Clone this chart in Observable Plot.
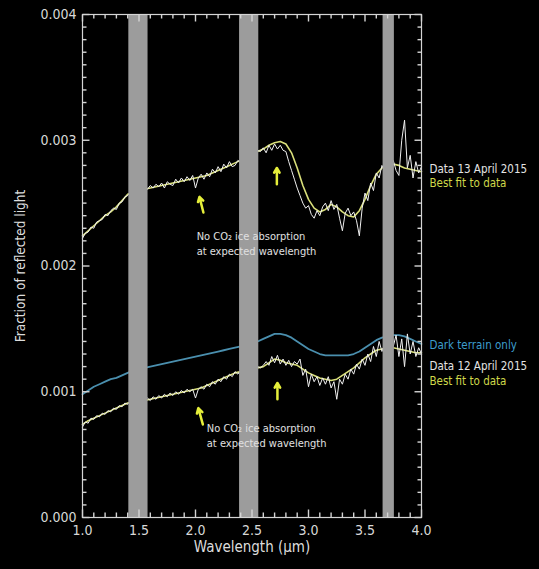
<!DOCTYPE html>
<html><head><meta charset="utf-8">
<script src="https://cdn.jsdelivr.net/npm/d3@7"></script>
<script src="https://cdn.jsdelivr.net/npm/@observablehq/plot@0.6"></script>
<style>
html,body{margin:0;padding:0;background:#000;}
#chart{width:539px;height:569px;overflow:hidden;}
</style></head><body><div id="chart"></div>
<script>
// Wavelength grids (µm)
const wl = [1.00,1.05,1.10,1.15,1.20,1.25,1.30,1.35,1.40,1.45,1.50,1.55,1.60,1.65,1.70,1.75,1.80,1.85,1.90,1.95,
  2.00,2.05,2.10,2.15,2.20,2.25,2.30,2.35,2.40,2.45,2.50,2.55,2.60,2.65,2.70,2.75,2.80,2.85,2.90,2.95,
  3.00,3.05,3.10,3.15,3.20,3.25,3.30,3.35,3.40,3.45,3.50,3.55,3.60,3.65,3.70,3.75,3.80,3.85,3.90,3.95,4.00];
const wlFine = [1.000,1.025,1.050,1.075,1.100,1.125,1.150,1.175,1.200,1.225,1.250,1.275,1.300,1.325,1.350,1.375,1.400,1.425,1.450,1.475,
  1.500,1.525,1.550,1.575,1.600,1.625,1.650,1.675,1.700,1.725,1.750,1.775,1.800,1.825,1.850,1.875,1.900,1.925,1.950,1.975,
  2.000,2.025,2.050,2.075,2.100,2.125,2.150,2.175,2.200,2.225,2.250,2.275,2.300,2.325,2.350,2.375,2.400,2.425,2.450,2.475,
  2.500,2.525,2.550,2.575,2.600,2.625,2.650,2.675,2.700,2.725,2.750,2.775,2.800,2.825,2.850,2.875,2.900,2.925,2.950,2.975,
  3.000,3.025,3.050,3.075,3.100,3.125,3.150,3.175,3.200,3.225,3.250,3.275,3.300,3.325,3.350,3.375,3.400,3.425,3.450,3.475,
  3.500,3.525,3.550,3.575,3.600,3.625,3.650,3.675,3.700,3.725,3.750,3.775,3.800,3.825,3.850,3.875,3.900,3.925,3.950,3.975,4.000];

// Best fit, 13 April 2015 (on wl)
const fit13 = [0.00224,0.00228,0.00232,0.00236,0.00240,0.00243,0.00247,0.00252,0.00257,0.00259,0.00260,0.00261,0.00262,0.00263,0.00264,0.00265,0.00266,0.00267,0.00268,0.00269,
  0.00270,0.00271,0.00272,0.00274,0.00276,0.00278,0.00280,0.00282,0.00284,0.00287,0.00289,0.00291,0.00293,0.00296,0.00298,0.00299,0.00297,0.00290,0.00278,0.00264,
  0.00253,0.00246,0.00243,0.00245,0.00249,0.00247,0.00243,0.00240,0.00239,0.00244,0.00253,0.00264,0.00273,0.00278,0.00280,0.00281,0.00280,0.00278,0.00277,0.00276,0.00275];
// Data, 13 April 2015 (on wlFine)
const data13 = [0.00222,0.00226,0.00227,0.00231,0.00230,0.00235,0.00236,0.00237,0.00241,0.00240,0.00244,0.00246,0.00245,0.00250,0.00251,0.00255,0.00256,0.00259,0.00258,0.00260,
  0.00261,0.00260,0.00262,0.00261,0.00264,0.00262,0.00265,0.00263,0.00266,0.00262,0.00267,0.00265,0.00264,0.00269,0.00266,0.00270,0.00267,0.00271,0.00268,0.00272,
  0.00262,0.00270,0.00273,0.00269,0.00274,0.00271,0.00277,0.00274,0.00279,0.00275,0.00281,0.00278,0.00283,0.00279,0.00280,0.00284,0.00282,0.00286,0.00288,0.00287,
  0.00290,0.00289,0.00292,0.00291,0.00294,0.00290,0.00296,0.00292,0.00297,0.00293,0.00296,0.00292,0.00291,0.00283,0.00276,0.00269,0.00262,0.00256,0.00250,0.00246,
  0.00248,0.00241,0.00238,0.00244,0.00240,0.00247,0.00250,0.00244,0.00252,0.00245,0.00249,0.00238,0.00228,0.00242,0.00246,0.00240,0.00243,0.00236,0.00224,0.00246,
  0.00258,0.00252,0.00266,0.00260,0.00274,0.00270,0.00280,0.00276,0.00283,0.00279,0.00284,0.00276,0.00272,0.00300,0.00316,0.00278,0.00288,0.00270,0.00283,0.00274,0.00279];
// Dark terrain only (on wl)
const dark = [0.00098,0.00101,0.00104,0.00106,0.00108,0.00110,0.00111,0.00113,0.00115,0.00117,0.00118,0.00119,0.00120,0.00121,0.00122,0.00123,0.00124,0.00125,0.00126,0.00127,
  0.00128,0.00129,0.00130,0.00131,0.00132,0.00133,0.00134,0.00135,0.00136,0.00137,0.00139,0.00140,0.00142,0.00144,0.00146,0.00146,0.00145,0.00143,0.00140,0.00137,
  0.00134,0.00132,0.00130,0.00129,0.00129,0.00129,0.00129,0.00129,0.00130,0.00132,0.00135,0.00138,0.00141,0.00143,0.00144,0.00145,0.00145,0.00144,0.00142,0.00140,0.00138];
// Best fit, 12 April 2015 (on wl)
const fit12 = [0.00074,0.00077,0.00079,0.00081,0.00083,0.00085,0.00087,0.00089,0.00091,0.00092,0.00093,0.00093,0.00094,0.00095,0.00096,0.00097,0.00098,0.00099,0.00100,0.00101,
  0.00102,0.00103,0.00105,0.00107,0.00109,0.00111,0.00113,0.00115,0.00116,0.00117,0.00118,0.00119,0.00120,0.00123,0.00126,0.00125,0.00123,0.00122,0.00121,0.00118,
  0.00115,0.00113,0.00111,0.00110,0.00109,0.00110,0.00113,0.00116,0.00119,0.00123,0.00127,0.00130,0.00133,0.00134,0.00135,0.00135,0.00134,0.00133,0.00132,0.00131,0.00131];
// Data, 12 April 2015 (on wlFine)
const data12 = [0.00072,0.00076,0.00075,0.00079,0.00078,0.00081,0.00080,0.00083,0.00082,0.00085,0.00084,0.00087,0.00086,0.00089,0.00088,0.00091,0.00090,0.00093,0.00091,0.00094,
  0.00092,0.00094,0.00093,0.00095,0.00093,0.00096,0.00094,0.00097,0.00095,0.00098,0.00096,0.00099,0.00097,0.00100,0.00098,0.00101,0.00099,0.00102,0.00100,0.00102,
  0.00095,0.00102,0.00104,0.00102,0.00106,0.00104,0.00108,0.00106,0.00110,0.00108,0.00112,0.00110,0.00114,0.00112,0.00116,0.00114,0.00117,0.00116,0.00118,0.00117,
  0.00119,0.00118,0.00120,0.00119,0.00121,0.00124,0.00121,0.00128,0.00123,0.00129,0.00122,0.00126,0.00121,0.00125,0.00120,0.00124,0.00122,0.00126,0.00113,0.00118,
  0.00104,0.00114,0.00108,0.00112,0.00105,0.00111,0.00106,0.00112,0.00103,0.00108,0.00094,0.00110,0.00106,0.00114,0.00110,0.00118,0.00114,0.00122,0.00118,0.00126,
  0.00121,0.00130,0.00124,0.00136,0.00128,0.00140,0.00132,0.00138,0.00134,0.00140,0.00136,0.00145,0.00128,0.00142,0.00120,0.00146,0.00130,0.00140,0.00128,0.00135,0.00130];

// Grey masked wavelength bands
const bandFrom = [1.41, 2.39, 3.66];
const bandTo   = [1.58, 2.56, 3.76];

// Ticks
const xTicks = [1.0,1.5,2.0,2.5,3.0,3.5,4.0];
const xMinor = [1.1,1.2,1.3,1.4,1.6,1.7,1.8,1.9,2.1,2.2,2.3,2.4,2.6,2.7,2.8,2.9,3.1,3.2,3.3,3.4,3.6,3.7,3.8,3.9];
const yTicks = [0,0.001,0.002,0.003,0.004];
const yMinor = [0.0001,0.0002,0.0003,0.0004,0.0005,0.0006,0.0007,0.0008,0.0009,
  0.0011,0.0012,0.0013,0.0014,0.0015,0.0016,0.0017,0.0018,0.0019,
  0.0021,0.0022,0.0023,0.0024,0.0025,0.0026,0.0027,0.0028,0.0029,
  0.0031,0.0032,0.0033,0.0034,0.0035,0.0036,0.0037,0.0038,0.0039];

// Annotations
const noteText = "No CO\u2082 ice absorption\nat expected wavelength";
const notes = [{x:2.01, y:0.00229, text:noteText},{x:2.10, y:0.000765, text:noteText}];
const arrows = [
  {x1:2.07,y1:0.002425,x2:2.035,y2:0.00255},
  {x1:2.72,y1:0.00265,x2:2.72,y2:0.00278},
  {x1:2.065,y1:0.00074,x2:2.025,y2:0.00087},
  {x1:2.725,y1:0.00094,x2:2.725,y2:0.00107}
];
const legendLabels = ["Data 13 April 2015","Best fit to data","Dark terrain only","Data 12 April 2015","Best fit to data"];
const legendY = [0.00277,0.002655,0.00137,0.00120,0.00108];
const legendColors = ["#e4e4e4","#cfd84a","#3d9ccc","#e4e4e4","#cfd84a"];

const rows = (xs, ys) => xs.map((x, i) => ({x, y: ys[i]}));
const bands = bandFrom.map((f, i) => ({from: f, to: bandTo[i]}));
const legend = legendLabels.map((t, i) => ({text: t, y: legendY[i], color: legendColors[i]}));
const tickRowsX = (vals, a, b) => vals.map(v => ({v, a, b}));

const W = 539, H = 569, mL = 82, mR = 118, mT = 14, mB = 52;
const frameW = W - mL - mR, frameH = H - mT - mB;
const xDom = [1, 4], yDom = [0, 0.004];
const pxX = px => px * (xDom[1] - xDom[0]) / frameW;
const pxY = px => px * (yDom[1] - yDom[0]) / frameH;
const axisColor = "#d4d4d4";
const font = "'DejaVu Sans Condensed','DejaVu Sans',sans-serif";

// inward tick marks as explicit segments
const xTickSegs = [
  ...tickRowsX(xTicks, yDom[0], yDom[0] + pxY(8)),
  ...tickRowsX(xMinor, yDom[0], yDom[0] + pxY(5)),
  ...tickRowsX(xTicks, yDom[1], yDom[1] - pxY(7)),
  ...tickRowsX(xMinor, yDom[1], yDom[1] - pxY(4))
];
const yTickSegs = [
  ...tickRowsX(yTicks, xDom[0], xDom[0] + pxX(7)),
  ...tickRowsX(yMinor, xDom[0], xDom[0] + pxX(4)),
  ...tickRowsX(yTicks, xDom[1], xDom[1] - pxX(7)),
  ...tickRowsX(yMinor, xDom[1], xDom[1] - pxX(4))
];

const chart = Plot.plot({
  width: W, height: H,
  marginLeft: mL, marginRight: mR, marginTop: mT, marginBottom: mB,
  style: {background: "#000", color: "#d8d8d8", fontFamily: font, fontSize: "14px", overflow: "visible"},
  x: {domain: xDom},
  y: {domain: yDom},
  marks: [
    Plot.lineY(rows(wl, dark), {x: "x", y: "y", stroke: "#4a8fae", strokeWidth: 1.8}),
    Plot.lineY(rows(wl, fit13), {x: "x", y: "y", stroke: "#d9df7a", strokeWidth: 1.6}),
    Plot.lineY(rows(wlFine, data13), {x: "x", y: "y", stroke: "#f0f0f0", strokeWidth: 1}),
    Plot.lineY(rows(wl, fit12), {x: "x", y: "y", stroke: "#d9df7a", strokeWidth: 1.6}),
    Plot.lineY(rows(wlFine, data12), {x: "x", y: "y", stroke: "#f0f0f0", strokeWidth: 1}),
    Plot.rect(bands, {x1: "from", x2: "to", fill: "#9c9c9c"}),
    Plot.link(xTickSegs, {x1: "v", x2: "v", y1: "a", y2: "b", stroke: axisColor, strokeWidth: 1.4}),
    Plot.link(yTickSegs, {y1: "v", y2: "v", x1: "a", x2: "b", stroke: axisColor, strokeWidth: 1.4}),
    Plot.frame({stroke: axisColor, strokeWidth: 1.2}),
    // tick labels
    Plot.axisX({ticks: xTicks, tickSize: 0, tickPadding: 8, tickFormat: ".1f", label: null}),
    Plot.axisY({ticks: yTicks, tickSize: 0, tickPadding: 6, tickFormat: ".3f", label: null}),
    // axis titles
    Plot.text(["Wavelength (\u00b5m)"], {frameAnchor: "bottom", dy: 34, fontSize: 15, fill: "#dcdcdc"}),
    Plot.text(["Fraction of reflected light"], {frameAnchor: "left", dx: -62, rotate: -90, textAnchor: "middle", fontSize: 13.5, fill: "#dcdcdc"}),
    // arrows
    Plot.arrow(arrows, {x1: "x1", y1: "y1", x2: "x2", y2: "y2", stroke: "#e5ee3a", strokeWidth: 2.5, headLength: 6}),
    // notes
    Plot.text(notes, {x: "x", y: "y", text: "text", textAnchor: "start", lineAnchor: "top", fontSize: 11, lineHeight: 1.35, fill: "#e0e0e0"}),
    // legend labels
    Plot.text(legend, {x: 4.07, y: "y", text: "text", fill: "color", textAnchor: "start", fontSize: 11.5, clip: false})
  ]
});
document.getElementById("chart").appendChild(chart);
</script>
</body></html>
